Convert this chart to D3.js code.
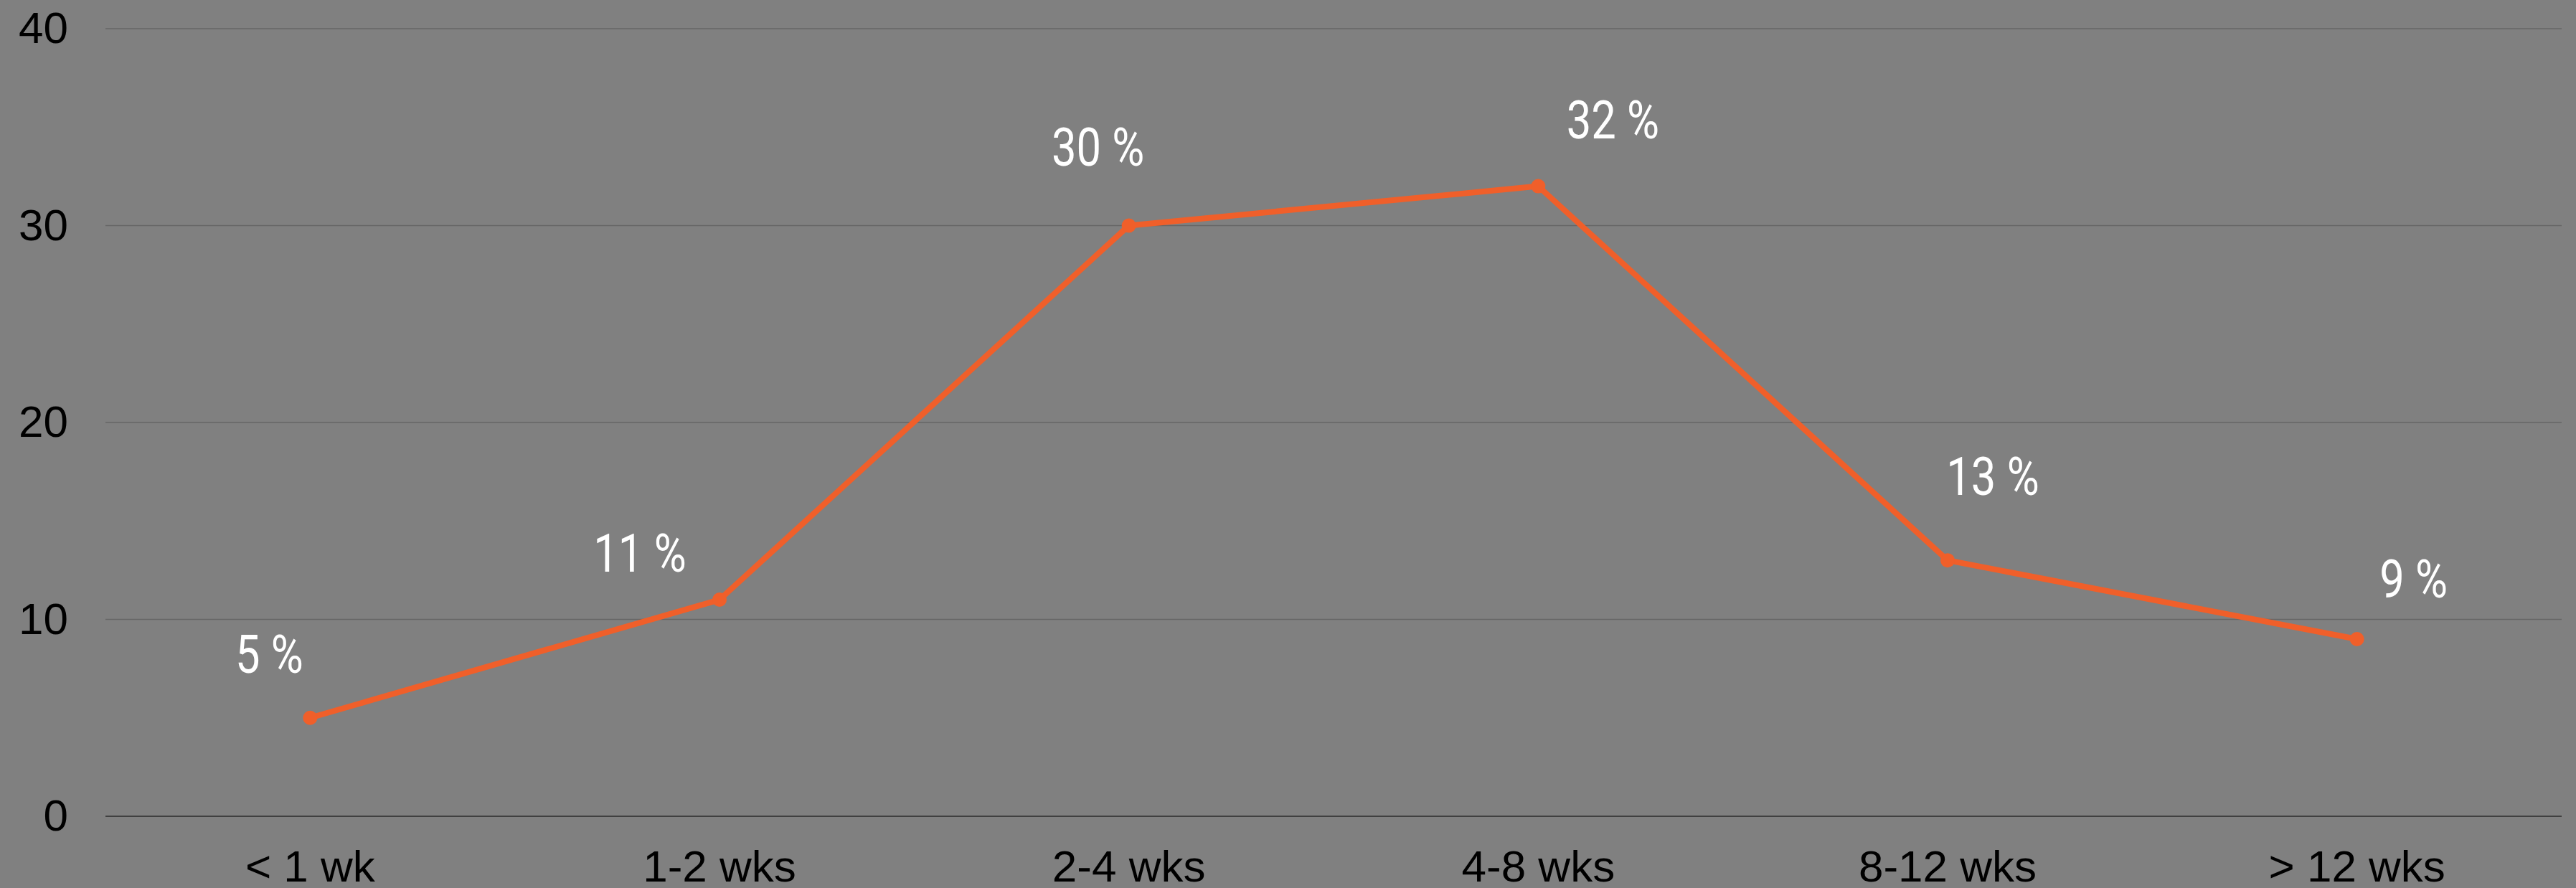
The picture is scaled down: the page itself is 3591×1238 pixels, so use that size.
<!DOCTYPE html>
<html>
<head>
<meta charset="utf-8">
<script src="https://cdn.jsdelivr.net/npm/d3@7"></script>
<style>
  html, body { margin: 0; padding: 0; background: #808080; }
  svg { display: block; }
  .axis text { font-family: "Liberation Sans", Arial, sans-serif; font-size: 62px; fill: #000; }
  .pct { font-family: Roboto, "Open Sans", sans-serif; font-size: 75px; fill: #fff; }
</style>
</head>
<body>
<svg id="chart" width="3591" height="1238"></svg>
<script>
// duration buckets and share of cases (%)
var categories = ["< 1 wk", "1-2 wks", "2-4 wks", "4-8 wks", "8-12 wks", "> 12 wks"];
var values = [5, 11, 30, 32, 13, 9];
var yTicks = [0, 10, 20, 30, 40];
// where each value label sits relative to its point (hand placed in the original)
var labelDx = [-57, -111, -43, 104, 63, 79];
var labelDy = [-63, -39, -84, -67, -91, -58];

var svg = d3.select("#chart"),
    margin = {top: 40, right: 20, bottom: 100, left: 147},
    width = +svg.attr("width") - margin.left - margin.right,
    height = +svg.attr("height") - margin.top - margin.bottom;

var x = d3.scaleBand().domain(categories).range([0, width]),
    y = d3.scaleLinear().domain([0, 40]).range([height, 0]);

var g = svg.append("g")
    .attr("transform", "translate(" + margin.left + "," + margin.top + ")");

// gridlines
g.selectAll(".grid")
  .data(yTicks)
  .enter().append("line")
    .attr("class", "grid")
    .attr("x1", 0)
    .attr("x2", width)
    .attr("y1", function(d) { return y(d); })
    .attr("y2", function(d) { return y(d); })
    .attr("stroke", function(d) { return d === 0 ? "#404040" : "#666666"; })
    .attr("stroke-width", function(d) { return d === 0 ? 2 : 1.5; });

var yAxis = g.append("g")
    .attr("class", "axis")
    .call(d3.axisLeft(y).tickValues(yTicks).tickSize(0).tickPadding(52));
yAxis.select(".domain").remove();

var xAxis = g.append("g")
    .attr("class", "axis")
    .attr("transform", "translate(0," + height + ")")
    .call(d3.axisBottom(x).tickSize(0).tickPadding(47));
xAxis.select(".domain").remove();

var cx = function(d, i) { return x(categories[i]) + x.bandwidth() / 2; };

var line = d3.line()
    .x(function(d, i) { return cx(d, i); })
    .y(function(d) { return y(d); });

g.append("path")
    .datum(values)
    .attr("fill", "none")
    .attr("stroke", "#F05F2A")
    .attr("stroke-width", 8)
    .attr("stroke-linejoin", "round")
    .attr("d", line);

g.selectAll(".dot")
  .data(values)
  .enter().append("circle")
    .attr("class", "dot")
    .attr("cx", cx)
    .attr("cy", function(d) { return y(d); })
    .attr("r", 10)
    .attr("fill", "#F05F2A");

g.selectAll(".pct")
  .data(values)
  .enter().append("text")
    .attr("class", "pct")
    .attr("text-anchor", "middle")
    .attr("transform", function(d, i) {
      return "translate(" + (cx(d, i) + labelDx[i]) + "," + (y(d) + labelDy[i]) + ") scale(0.82,1)";
    })
    .text(function(d) { return d + " %"; });
</script>
</body>
</html>
